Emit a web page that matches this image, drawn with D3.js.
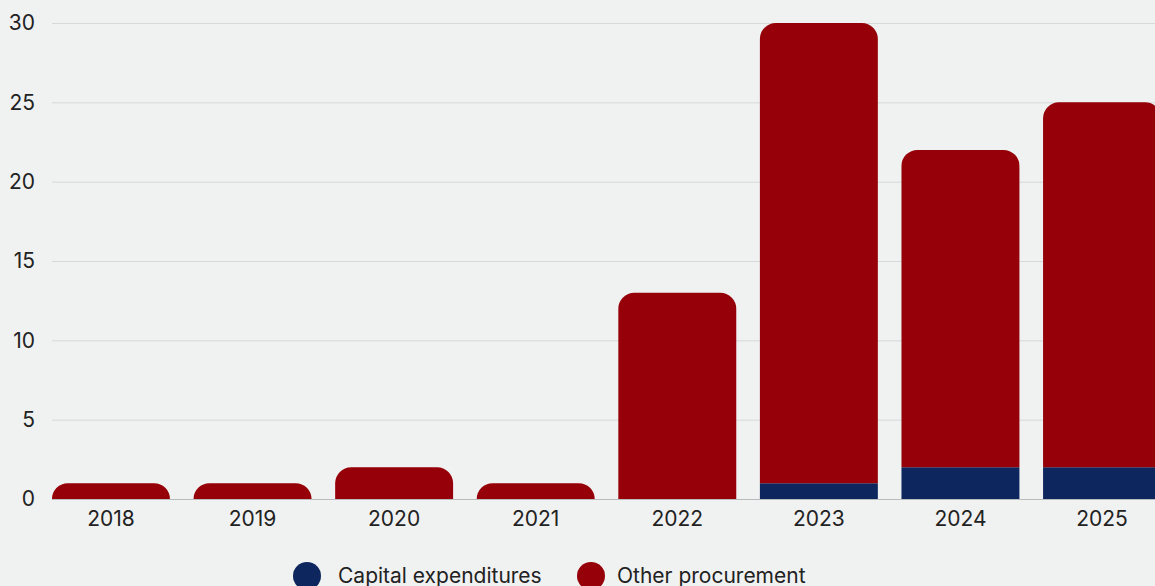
<!DOCTYPE html>
<html>
<head>
<meta charset="utf-8">
<script src="https://cdn.jsdelivr.net/npm/d3@7"></script>
<style>
  html, body { margin: 0; padding: 0; background: #f0f1f1; overflow: hidden; }
  svg { display: block; font-family: Inter, "Noto Sans", sans-serif; }
</style>
</head>
<body>
<div id="chart"></div>
<script>
// Data
const years = ["2018", "2019", "2020", "2021", "2022", "2023", "2024", "2025"];
const capex = [0, 0, 0, 0, 0, 1, 2, 2];
const otherProc = [1, 1, 2, 1, 13, 29, 20, 23];
const yTicks = [0, 5, 10, 15, 20, 25, 30];
const seriesNames = ["Capital expenditures", "Other procurement"];
const colors = ["#0d265e", "#960008"];

const W = 1155, H = 586;
const plot = { left: 52, right: 1161, top: 23, bottom: 499 };

const svg = d3.select("#chart").append("svg")
    .attr("width", W)
    .attr("height", H);

svg.append("rect").attr("width", W).attr("height", H).attr("fill", "#f0f1f1");

const x = d3.scaleBand()
    .domain(years)
    .range([plot.left, plot.right])
    .paddingInner(0.167)
    .paddingOuter(0);

const y = d3.scaleLinear()
    .domain([0, 30])
    .range([plot.bottom, plot.top]);

// gridlines
svg.append("g")
  .selectAll("line")
  .data(yTicks)
  .join("line")
    .attr("x1", plot.left)
    .attr("x2", W)
    .attr("y1", d => y(d) + 0.5)
    .attr("y2", d => y(d) + 0.5)
    .attr("stroke", d => d === 0 ? "#b9bcbd" : "#d6d8d9")
    .attr("stroke-width", 1);

// y axis labels
const yAxis = svg.append("g")
    .attr("transform", `translate(${plot.left},0)`)
    .call(d3.axisLeft(y).tickValues(yTicks).tickSize(0).tickPadding(17));
yAxis.select(".domain").remove();
yAxis.selectAll("text")
    .attr("fill", "#222")
    .style("font-size", "21px")
    .style("font-family", "Inter, 'Noto Sans', sans-serif");

// x axis labels
const xAxis = svg.append("g")
    .attr("transform", `translate(0,${plot.bottom})`)
    .call(d3.axisBottom(x).tickSize(0).tickPadding(12));
xAxis.select(".domain").remove();
xAxis.selectAll("text")
    .attr("fill", "#222")
    .style("font-size", "21px")
    .style("font-family", "Inter, 'Noto Sans', sans-serif");

// stacked data
const rows = years.map((yr, i) => ({ year: yr, capex: capex[i], other: otherProc[i] }));
const stack = d3.stack().keys(["capex", "other"]);
const layers = stack(rows);

// path with rounded top corners
function barPath(x0, w, yTop, yBot, r) {
  const h = yBot - yTop;
  if (h <= 0) return "";
  r = Math.min(r, h, w / 2);
  return `M${x0},${yBot}` +
    `L${x0},${yTop + r}` +
    `A${r},${r} 0 0 1 ${x0 + r},${yTop}` +
    `L${x0 + w - r},${yTop}` +
    `A${r},${r} 0 0 1 ${x0 + w},${yTop + r}` +
    `L${x0 + w},${yBot}Z`;
}

layers.forEach((layer, li) => {
  svg.append("g")
    .selectAll("path")
    .data(layer)
    .join("path")
      .attr("fill", colors[li])
      .attr("d", d => {
        if (d[1] - d[0] <= 0) return "";
        const isTop = li === layers.length - 1;
        const x0 = x(d.data.year), w = x.bandwidth();
        if (isTop) return barPath(x0, w, y(d[1]), y(d[0]), 16);
        return `M${x0},${y(d[0])}H${x0 + w}V${y(d[1])}H${x0}Z`;
      });
});

// legend
const legendItems = [
  { name: seriesNames[0], color: colors[0], cx: 307, tx: 338 },
  { name: seriesNames[1], color: colors[1], cx: 591, tx: 617 }
];
const legend = svg.append("g");
legendItems.forEach(d => {
  legend.append("circle")
    .attr("cx", d.cx)
    .attr("cy", 576)
    .attr("r", 14)
    .attr("fill", d.color);
  legend.append("text")
    .attr("x", d.tx)
    .attr("y", 583)
    .attr("fill", "#222")
    .style("font-size", "21px")
    .text(d.name);
});
</script>
</body>
</html>
